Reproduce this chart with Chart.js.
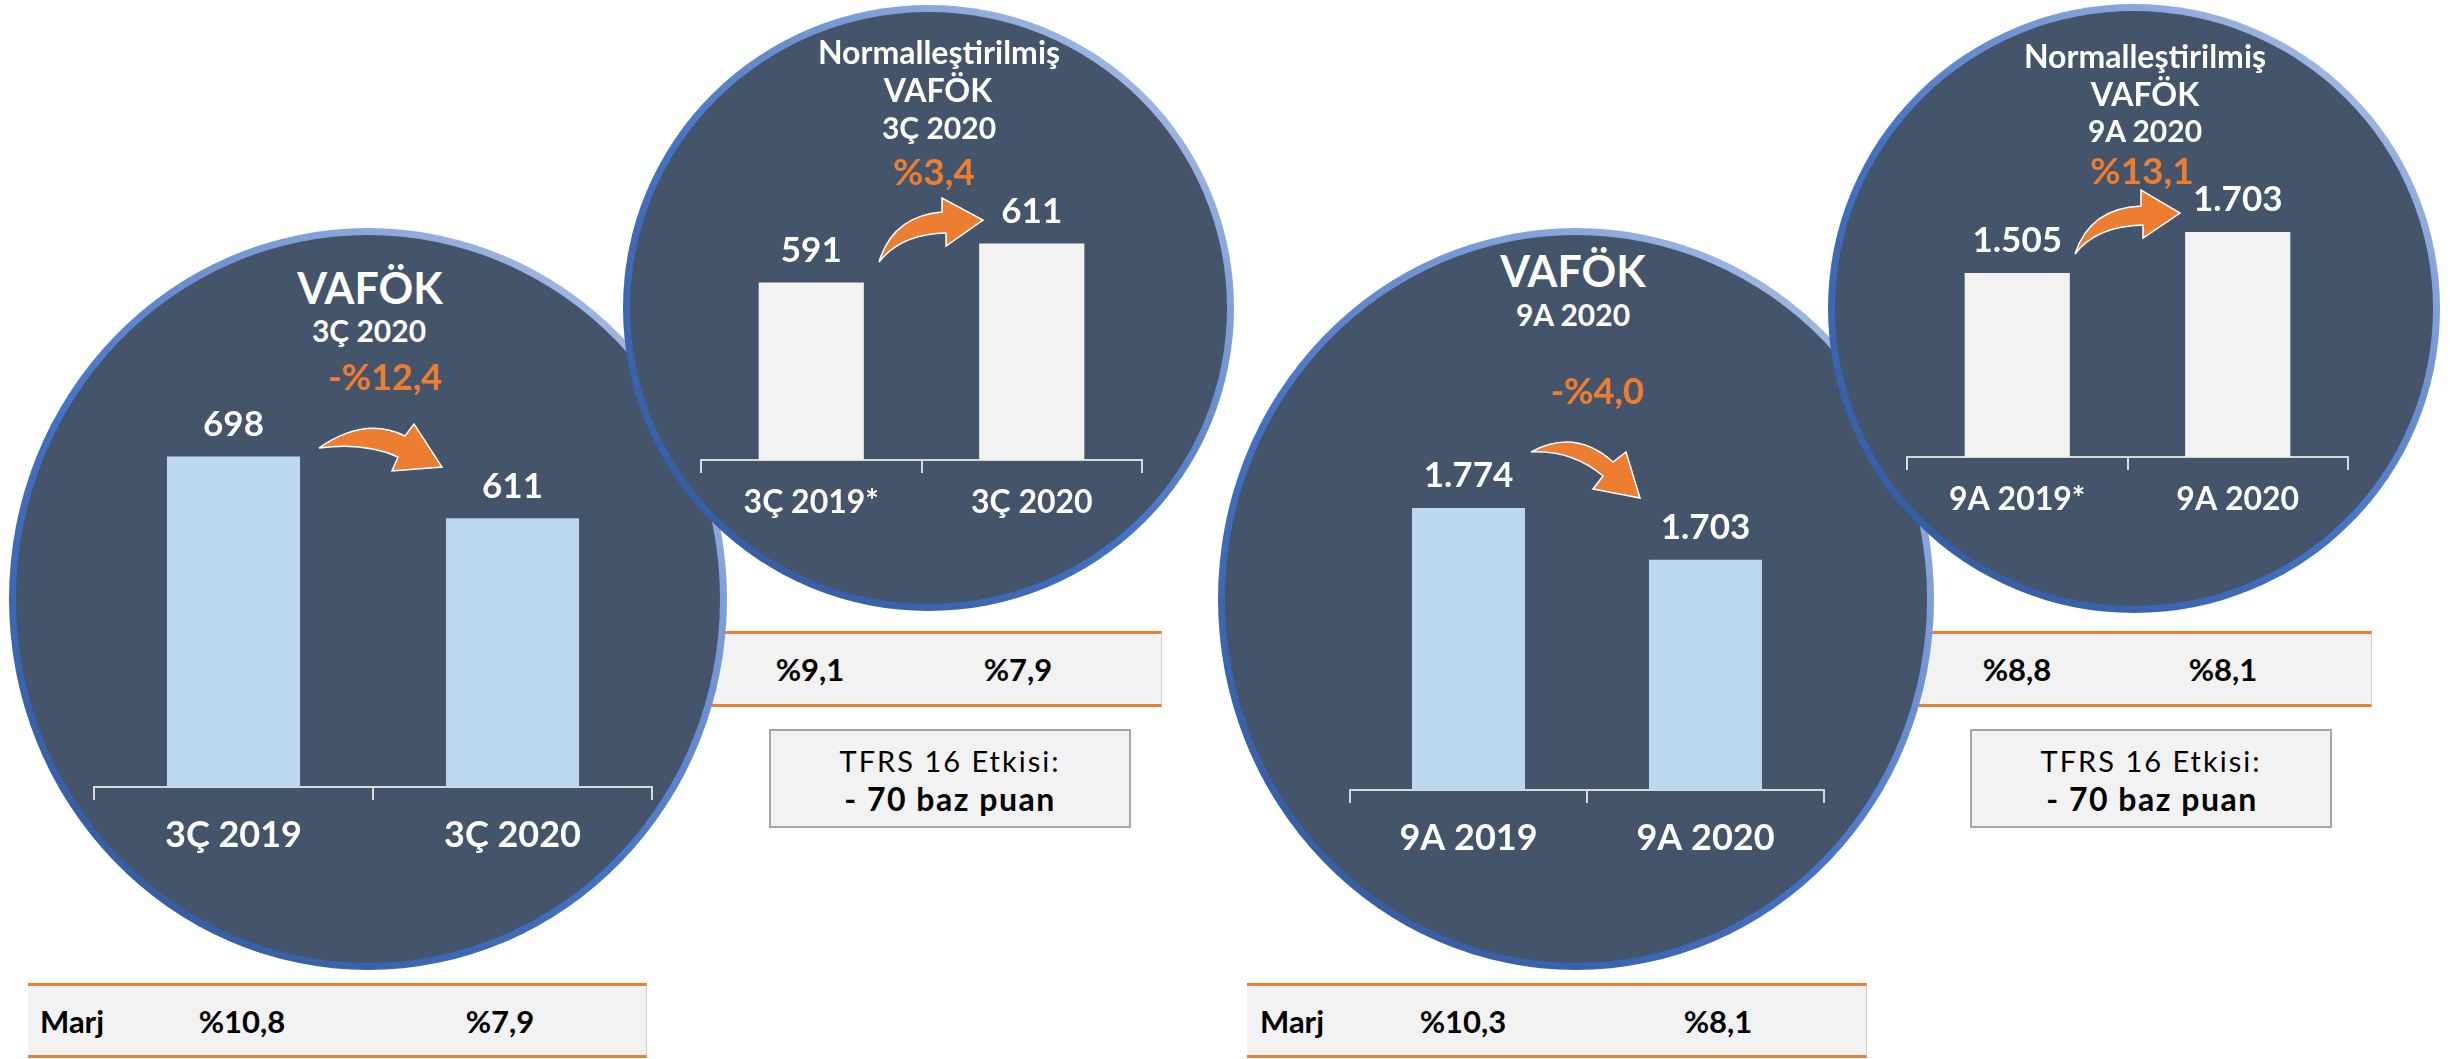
<!DOCTYPE html>
<html><head><meta charset="utf-8">
<script src="https://cdn.jsdelivr.net/npm/chart.js@4.4.0/dist/chart.umd.min.js"></script>
<style>
html,body{margin:0;padding:0;background:#fff;width:2453px;height:1059px;overflow:hidden;font-family:Lato,"Open Sans",sans-serif;}
.layer{position:absolute;left:0;top:0;width:2453px;height:1059px;}
.circ{position:absolute;border-radius:50%;background:linear-gradient(40deg,#2F5597 0%,#4472C4 45%,#BCCDEB 100%);}
.circ::after{content:"";position:absolute;left:7px;top:7px;right:7px;bottom:7px;border-radius:50%;background:#44546A}
.t{position:absolute;transform:translate(-50%,-50%);white-space:nowrap;line-height:1;font-weight:700;color:#fff}
.or{color:#ED7D31}
.k{color:#000}
.tl{transform:translate(0,-50%)}
.tbl{position:absolute;background:#F2F2F2;border-top:3px solid #ED7D31;border-bottom:3px solid #ED7D31;border-right:1px solid #D0D0D0;box-sizing:border-box}
.box{position:absolute;background:#F2F2F2;border:2px solid #A6A6A6;box-sizing:border-box}
canvas{position:absolute}
svg{position:absolute;left:0;top:0}
</style></head>
<body>
<script>
// ---------------- DATA ----------------
const categories1 = ['3Ç 2019', '3Ç 2020'];
const values1 = [698, 611];
const categories2 = ['3Ç 2019*', '3Ç 2020'];
const values2 = [591, 611];
const categories3 = ['9A 2019', '9A 2020'];
const values3 = [1774, 1703];
const categories4 = ['9A 2019*', '9A 2020'];
const values4 = [1505, 1703];
const titles = ['VAFÖK', 'Normalleştirilmiş', 'VAFÖK', 'Normalleştirilmiş'];
const periods = ['3Ç 2020', '3Ç 2020', '9A 2020', '9A 2020'];
const changes = ['-%12,4', '%3,4', '-%4,0', '%13,1'];
const margins1 = ['%10,8', '%7,9'];
const margins2 = ['%9,1', '%7,9'];
const margins3 = ['%10,3', '%8,1'];
const margins4 = ['%8,8', '%8,1'];
const marginLabel = 'Marj';
const tfrsLine1 = 'TFRS 16 Etkisi:';
const tfrsLine2 = '- 70 baz puan';
const axisMin = [233, 500, 1386, 616];
const axisMax = [795.6, 653.8, 1936.5, 2065];
</script>
<script>
// ---------------- LAYOUT ----------------
function el(parent, tag, cls, css, text){
  const e=document.createElement(tag); if(cls) e.className=cls;
  if(css) Object.assign(e.style, css); if(text!==undefined) e.textContent=text;
  parent.appendChild(e); return e;
}
function layer(z){ return el(document.body,'div','layer',{zIndex:z}); }
function txt(parent, s, x, y, size, cls, extra){
  return el(parent,'div','t '+(cls||''),Object.assign({left:x+'px',top:y+'px',fontSize:size+'px'},extra||{}),s);
}
function fmt(v){ return String(v).replace(/\B(?=(\d{3})+(?!\d))/g,'.'); }

const valueLabels = {
  id:'valueLabels',
  afterDatasetsDraw(chart, args, opts){
    const ctx=chart.ctx, meta=chart.getDatasetMeta(0), ds=chart.data.datasets[0];
    ctx.save();
    ctx.font='bold '+opts.size+'px Lato';
    ctx.fillStyle='#ffffff'; ctx.textAlign='center'; ctx.textBaseline='middle';
    meta.data.forEach((bar,i)=>ctx.fillText(fmt(ds.data[i]), bar.x, bar.y-opts.offset));
    ctx.restore();
  }
};

function makeChart(parent, idx, cats, vals, color, box, labelSize, tickPad){
  const c=el(parent,'canvas',null,{left:box.left+'px',top:box.top+'px'});
  c.width=box.w; c.height=box.h;
  new Chart(c,{
    type:'bar',
    data:{labels:cats,datasets:[{data:vals,backgroundColor:color,borderWidth:0,barPercentage:0.477,categoryPercentage:1}]},
    options:{
      responsive:false, animation:false, devicePixelRatio:1,
      layout:{padding:{left:10,right:10,top:0,bottom:0}},
      plugins:{legend:{display:false},tooltip:{enabled:false},valueLabels:{size:35,offset:32}},
      scales:{
        y:{display:false,min:axisMin[idx],max:axisMax[idx]},
        x:{
          grid:{display:true,drawOnChartArea:false,drawTicks:true,tickLength:13,color:'#D9D9D9',lineWidth:2,offset:true},
          border:{display:true,color:'#D9D9D9',width:2},
          ticks:{color:'#ffffff',font:{family:'Lato',size:labelSize,weight:'bold'},padding:tickPad,maxRotation:0,autoSkip:false},
          afterFit(scale){ scale.height=80; }
        }
      }
    },
    plugins:[valueLabels]
  });
}
function circle(parent,l,t,w,h){ el(parent,'div','circ',{left:l+'px',top:t+'px',width:w+'px',height:h+'px'}); }
function arrow(parent,d){
  const ns='http://www.w3.org/2000/svg';
  const s=document.createElementNS(ns,'svg'); s.setAttribute('width','2453'); s.setAttribute('height','1059');
  const p=document.createElementNS(ns,'path'); p.setAttribute('d',d);
  p.setAttribute('fill','#ED7D31'); p.setAttribute('stroke','#ffffff'); p.setAttribute('stroke-width','1.5');
  s.appendChild(p); parent.appendChild(s);
}
function table(parent,l,t,w,h){ el(parent,'div','tbl',{left:l+'px',top:t+'px',width:w+'px',height:h+'px'}); }

// back layer: tables and boxes
const L1=layer(1);
table(L1,28,983,619,75);
txt(L1,marginLabel,40,1021,31,'k tl');
txt(L1,margins1[0],242,1021,31,'k');
txt(L1,margins1[1],500,1021,31,'k');
table(L1,1247,983,620,75);
txt(L1,marginLabel,1260,1021,31,'k tl');
txt(L1,margins3[0],1463,1021,31,'k');
txt(L1,margins3[1],1718,1021,31,'k');
table(L1,650,631,512,76);
txt(L1,margins2[0],810,669,31,'k');
txt(L1,margins2[1],1018,669,31,'k');
table(L1,1850,631,522,76);
txt(L1,margins4[0],2017,669,31,'k');
txt(L1,margins4[1],2223,669,31,'k');
el(L1,'div','box',{left:'769px',top:'729px',width:'362px',height:'99px'});
txt(L1,tfrsLine1,950,760,29,'k',{fontWeight:400,letterSpacing:'2px'});
txt(L1,tfrsLine2,950,799,32,'k',{letterSpacing:'1.5px'});
el(L1,'div','box',{left:'1970px',top:'729px',width:'362px',height:'99px'});
txt(L1,tfrsLine1,2151,760,29,'k',{fontWeight:400,letterSpacing:'2px'});
txt(L1,tfrsLine2,2152,799,32,'k',{letterSpacing:'1.5px'});

// middle layer: big circles
const L2=layer(2);
circle(L2,9,228,718,742);
txt(L2,titles[0],370,287,43);
txt(L2,periods[0],369,330,30);
txt(L2,changes[0],385,376,36,'or');
arrow(L2,'M319,448 Q365,416 405,436 L414,424 L442,467 L392,471 L398,457 Q365,442 319,448 Z');
makeChart(L2,0,categories1,values1,'#BDD7EE',{left:83.5,top:387,w:578,h:480},36,14);

circle(L2,1218,228,716,742);
txt(L2,titles[2],1573,270,43);
txt(L2,periods[2],1573,314,30);
txt(L2,changes[2],1597,390,36,'or');
arrow(L2,'M1531,452 Q1575,428 1613,462 L1626,452 L1640,498 L1593,489 L1603,476 Q1572,450 1531,452 Z');
makeChart(L2,2,categories3,values3,'#BDD7EE',{left:1340,top:389.6,w:494,h:480},36,14);

// top layer: small circles
const L3=layer(3);
circle(L3,623,5,611,606);
txt(L3,titles[1],939,52,32);
txt(L3,titles[0],938,90,32);
txt(L3,periods[1],939,127,30);
txt(L3,changes[1],934,170,37,'or');
arrow(L3,'M879,262 Q893,216 942,212 L942,198 L983,220 L946,246 L946,233 Q901,234 879,262 Z');
makeChart(L3,1,categories2,values2,'#F2F2F2',{left:690.8,top:159.6,w:461,h:380},32,10);

circle(L3,1828,4,612,609);
txt(L3,titles[3],2145,56,32);
txt(L3,titles[2],2145,94,32);
txt(L3,periods[3],2145,130,30);
txt(L3,changes[3],2142,169,37,'or');
arrow(L3,'M2075,254 Q2090,208 2141,206 L2141,190 L2180,213 L2143,238 L2143,225 Q2096,226 2075,254 Z');
makeChart(L3,3,categories4,values4,'#F2F2F2',{left:1896.8,top:157,w:461,h:380},32,10);
</script>
</body></html>
